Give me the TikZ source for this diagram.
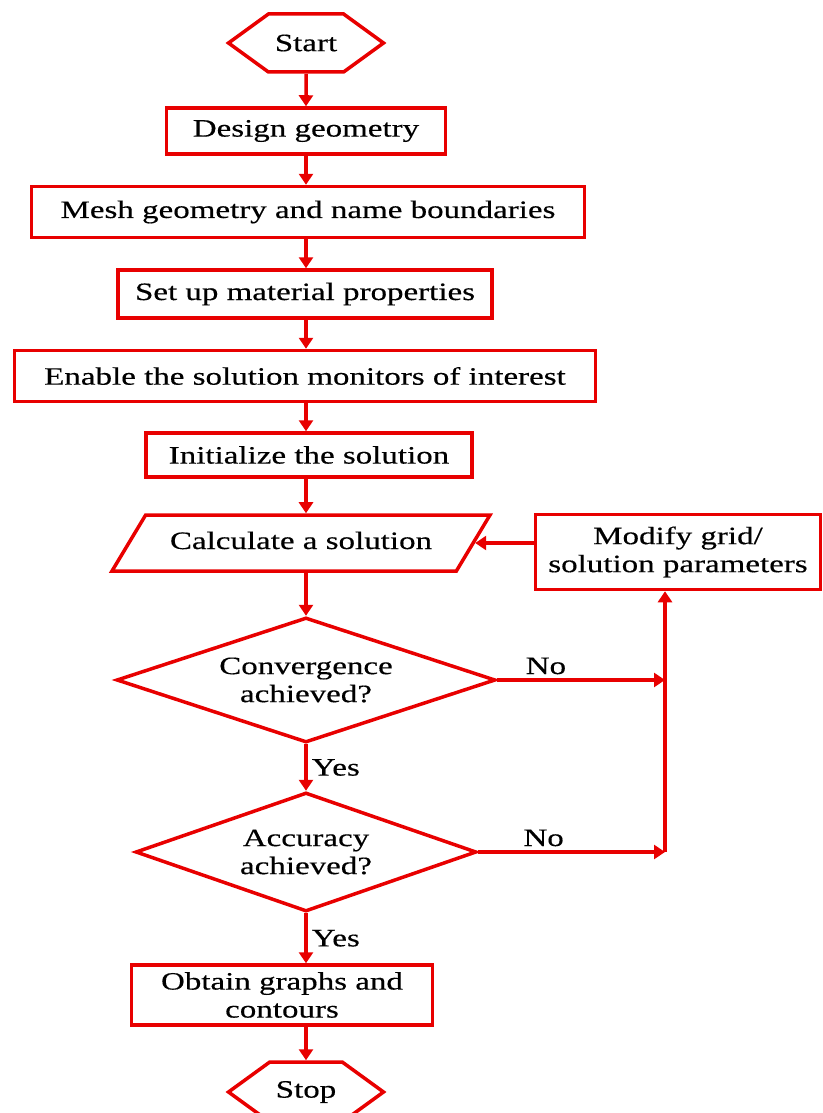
\documentclass[tikz,border=0pt]{standalone}
\usepackage{fontspec}
\setmainfont{Liberation Serif}[FakeStretch=1.32,FakeBold=0.4]
\usetikzlibrary{shapes.geometric,shapes.symbols,arrows.meta}
\definecolor{fcred}{RGB}{232,0,0}
\tikzset{
  fc_base/.style = {align=center, inner sep=0pt, text centered, draw=fcred, line width=3.5pt, font=\fontsize{25}{28}\selectfont},
  fc_box/.style = {fc_base, rectangle},
  fc_term/.style = {fc_base, signal, signal to=west and east, signal pointer angle=72},
  fc_io/.style = {fc_base, trapezium, trapezium left angle=59, trapezium right angle=121, trapezium stretches body,
    text height=18pt, text depth=6pt, inner ysep=16pt},
  fc_dec/.style = {fc_base, diamond, aspect=3},
  fc_arr/.style = {draw=fcred, line width=3.5pt, -{Triangle[length=11pt,width=14pt]}},
  fc_lbl/.style = {font=\fontsize{25}{28}\selectfont, inner sep=4pt}
}

\begin{document}
\begin{tikzpicture}[x=1pt, y=-1pt]
\useasboundingbox (0,0) rectangle (822,1113);
\clip (0,0) rectangle (822,1113);
% main column
\node [fc_term, minimum width=155pt, minimum height=58pt] (start) at (306,43) {Start};
\node [fc_box, minimum width=279pt, minimum height=46pt] (design) at (306,131) {Design geometry};
\node [fc_box, minimum width=553pt, minimum height=51pt] (mesh) at (308,212) {Mesh geometry and name boundaries};
\node [fc_box, minimum width=374pt, minimum height=48pt] (material) at (305,294) {Set up material properties};
\node [fc_box, minimum width=581pt, minimum height=51pt] (monitors) at (305,376) {Enable the solution monitors of interest};
\node [fc_box, minimum width=326pt, minimum height=44pt] (init) at (309,455) {Initialize the solution};
\node [fc_io, minimum width=378pt] (calc) at (301,543) {Calculate a solution};
\node [fc_box, minimum width=285pt, minimum height=75pt] (modify) at (678,552) {Modify grid/\\solution parameters};
\node [fc_dec, minimum width=379pt, minimum height=125pt] (conv) at (306,680) {Convergence\\achieved?};
\node [fc_dec, minimum width=341pt, minimum height=119pt] (acc) at (306,852) {Accuracy\\achieved?};
\node [fc_box, minimum width=301pt, minimum height=60pt] (obtain) at (282,995) {Obtain graphs and\\contours};
\node [fc_term, minimum width=155pt, minimum height=60pt] (stop) at (306,1092) {Stop};
\coordinate (join) at (665,852);

% connectors
\draw [fc_arr] (start) -- (design);
\draw [fc_arr] (design) -- (mesh.north -| design.south);
\draw [fc_arr] (mesh.south -| design.south) -- (material.north -| design.south);
\draw [fc_arr] (material.south -| design.south) -- (monitors.north -| design.south);
\draw [fc_arr] (monitors.south -| design.south) -- (init.north -| design.south);
\draw [fc_arr] (init.south -| design.south) -- (calc.north -| design.south);
\draw [fc_arr] (calc.south -| design.south) -- (conv.north);
\draw [fc_arr] (conv.south) -- node [fc_lbl, right] {Yes} (acc.north);
\draw [fc_arr] (acc.south) -- node [fc_lbl, right] {Yes} (acc.south |- obtain.north);
\draw [fc_arr] (obtain.south -| stop.north) -- (stop.north);
\draw [fc_arr] (conv.east) -- node [fc_lbl, above, pos=0.29] {No} (conv.east -| join);
\draw [fc_arr] (acc.east) -- node [fc_lbl, above, pos=0.35] {No} (join);
\draw [fc_arr] (join) -- (join |- modify.south);
\draw [fc_arr] (modify.west |- calc.east) -- (calc.east);
\end{tikzpicture}
\end{document}
